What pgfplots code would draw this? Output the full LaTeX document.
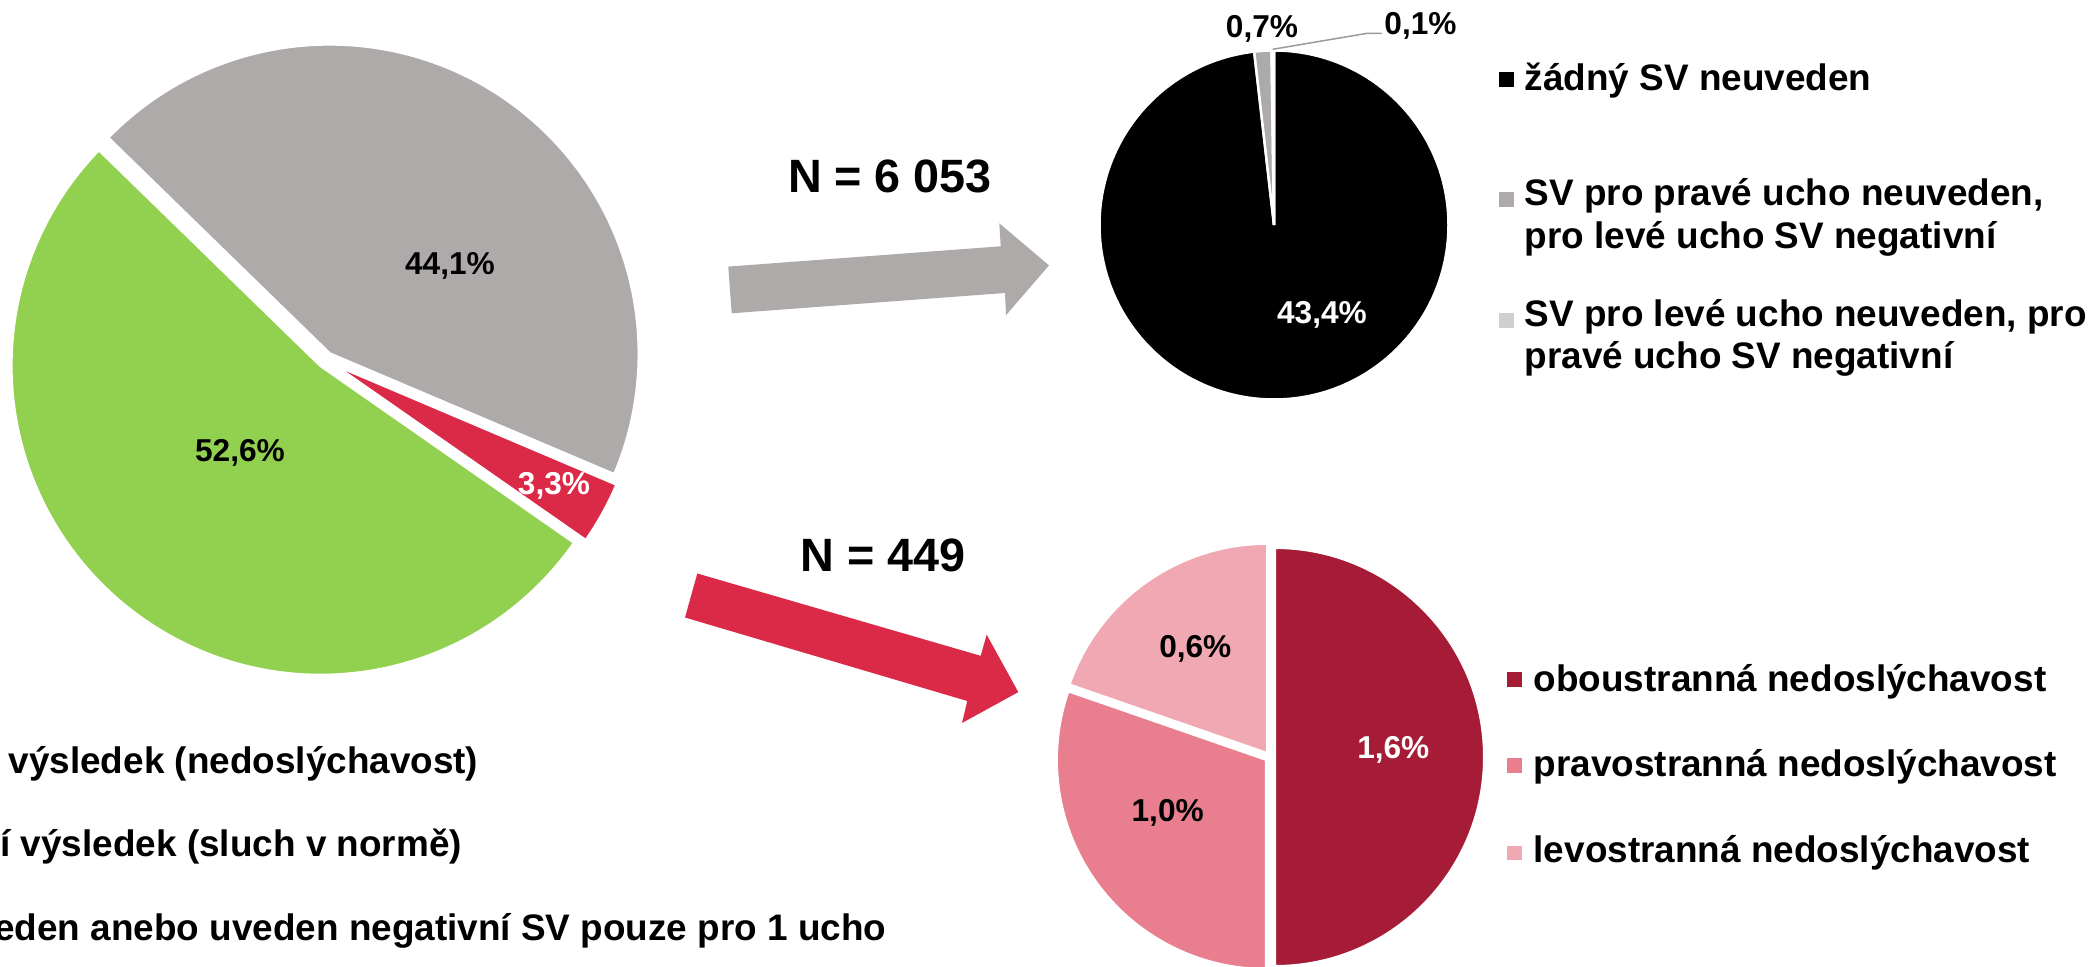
\documentclass[border=0pt]{standalone}
\usepackage{fontspec}
\setmainfont{Liberation Sans}
\usepackage{pgfplots}
\usepackage{pgfplotstable}
\pgfplotsset{compat=1.18}

\definecolor{pGreen}{HTML}{92D050}
\definecolor{pGray}{HTML}{AEAAAA}
\definecolor{pRed}{HTML}{DB2A47}
\definecolor{pLight}{HTML}{D0CECE}
\definecolor{dRed}{HTML}{A61C36}
\definecolor{mPink}{HTML}{E87E8E}
\definecolor{lPink}{HTML}{F0A8B2}

% slice values, in the order they run clockwise
\pgfplotstableread{
v c
3.3 pRed
52.6 pGreen
44.1 pGray
}\bigpie
\pgfplotstableread{
v c
43.4 black
0.7 pGray
0.1 pLight
}\svpie
\pgfplotstableread{
v c
1.6 dRed
0.97 mPink
0.63 lPink
}\posPie

\def\piebw{0.03cm}
% #1 cx, #2 cy, #3 radius, #4 start angle, #5 explode, #6 table
\newcommand\drawpie[6]{%
  \pgfplotstablegetrowsof{#6}%
  \pgfmathtruncatemacro\pielast{\pgfplotsretval-1}%
  \def\pietot{0}%
  \pgfplotsforeachungrouped \i in {0,...,\pielast}{%
    \pgfplotstablegetelem{\i}{v}\of{#6}%
    \pgfmathsetmacro\pietot{\pietot+\pgfplotsretval}}%
  \def\pieacc{0}%
  \pgfplotsforeachungrouped \i in {0,...,\pielast}{%
    \pgfplotstablegetelem{\i}{v}\of{#6}\let\pieval\pgfplotsretval
    \pgfplotstablegetelem{\i}{c}\of{#6}\let\piecol\pgfplotsretval
    \pgfmathsetmacro\pieA{#4-360*(\pieacc/\pietot)}%
    \pgfmathsetmacro\pieB{#4-360*((\pieacc+\pieval)/\pietot)}%
    \pgfmathsetmacro\pieM{(\pieA+\pieB)/2}%
    \pgfmathsetmacro\pieacc{\pieacc+\pieval}%
    \fill[fill=\piecol, draw=white, line width=\piebw]
      ([shift={(\pieM:#5cm)}]axis cs:#1,#2) -- ++(\pieA:#3cm)
      arc[start angle=\pieA, end angle=\pieB, radius=#3cm] -- cycle;
  }}

\newcommand\pct{\fontsize{9}{10}\selectfont\bfseries}
\newcommand\leg{\fontsize{10.5}{12}\selectfont\bfseries}
\newcommand\bigN{\fontsize{13.3}{15}\selectfont\bfseries}

\begin{document}
\begin{tikzpicture}
\begin{axis}[at={(0,0)}, anchor=origin, x=1cm, y=1cm,
  xmin=0, xmax=21, ymin=0, ymax=9.66, hide axis, clip=false]

\pgfplotsextra{%
  \def\piebw{0.03cm}\drawpie{3.254}{6.061}{3.095}{-23}{0.075}{\bigpie}%
  \def\piebw{0.025cm}\drawpie{12.74}{7.41}{1.745}{90}{0}{\svpie}%
  \def\piebw{0.02cm}\drawpie{12.70}{2.09}{2.09}{90}{0.05}{\posPie}%
}

% arrows
\fill[pGray] (axis cs:7.283,6.994) -- (axis cs:10.007,7.197) -- (axis cs:9.993,7.427)
  -- (axis cs:10.49,7.006) -- (axis cs:10.06,6.508) -- (axis cs:10.05,6.73)
  -- (axis cs:7.317,6.527) -- cycle;
\fill[pRed] (axis cs:6.973,3.925) -- (axis cs:9.807,3.102) -- (axis cs:9.867,3.313)
  -- (axis cs:10.183,2.739) -- (axis cs:9.62,2.43) -- (axis cs:9.673,2.65)
  -- (axis cs:6.85,3.485) -- cycle;

\node[anchor=base, inner sep=0] at (axis cs:8.90,7.735) {\bigN N = 6 053};
\node[anchor=base, inner sep=0] at (axis cs:8.833,3.94) {\bigN N = 449};

% slice labels
\node[anchor=base, inner sep=0] at (axis cs:4.50,6.91) {\pct 44,1\%};
\node[anchor=base, inner sep=0] at (axis cs:2.40,5.043) {\pct 52,6\%};
\node[anchor=base, inner sep=0, text=white] at (axis cs:5.54,4.71) {\pct 3,3\%};
\node[anchor=base, inner sep=0, text=white] at (axis cs:13.22,6.427) {\pct 43,4\%};
\node[anchor=base, inner sep=0] at (axis cs:12.62,9.287) {\pct 0,7\%};
\node[anchor=base, inner sep=0] at (axis cs:14.205,9.31) {\pct 0,1\%};
\draw[color=pGray!90!black, line width=0.015cm] (axis cs:12.727,9.167) -- (axis cs:13.673,9.327) -- (axis cs:13.817,9.327);
\node[anchor=base, inner sep=0, text=white] at (axis cs:13.933,2.077) {\pct 1,6\%};
\node[anchor=base, inner sep=0] at (axis cs:11.677,1.443) {\pct 1,0\%};
\node[anchor=base, inner sep=0] at (axis cs:11.953,3.087) {\pct 0,6\%};

% legend of the upper right pie
\fill[black] (axis cs:14.993,8.793) rectangle (axis cs:15.143,8.943);
\fill[pGray] (axis cs:14.993,7.593) rectangle (axis cs:15.143,7.743);
\fill[pLight] (axis cs:14.993,6.38) rectangle (axis cs:15.143,6.53);
\node[anchor=base west, inner sep=0] at (axis cs:15.24,8.753) {\leg žádný SV neuveden};
\node[anchor=base west, inner sep=0] at (axis cs:15.24,7.60) {\leg SV pro pravé ucho neuveden,};
\node[anchor=base west, inner sep=0] at (axis cs:15.24,7.177) {\leg pro levé ucho SV negativní};
\node[anchor=base west, inner sep=0] at (axis cs:15.24,6.393) {\leg SV pro levé ucho neuveden, pro};
\node[anchor=base west, inner sep=0] at (axis cs:15.24,5.977) {\leg pravé ucho SV negativní};

% legend of the lower right pie
\fill[dRed] (axis cs:15.073,2.793) rectangle (axis cs:15.217,2.943);
\fill[mPink] (axis cs:15.073,1.93) rectangle (axis cs:15.217,2.08);
\fill[lPink] (axis cs:15.073,1.06) rectangle (axis cs:15.217,1.20);
\node[anchor=base west, inner sep=0] at (axis cs:15.33,2.743) {\leg oboustranná nedoslýchavost};
\node[anchor=base west, inner sep=0] at (axis cs:15.33,1.893) {\leg pravostranná nedoslýchavost};
\node[anchor=base west, inner sep=0] at (axis cs:15.33,1.033) {\leg levostranná nedoslýchavost};

% legend of the big pie (runs off the left edge)
\fill[pRed] (axis cs:-1.82,1.97) rectangle (axis cs:-1.67,2.12);
\fill[pGreen] (axis cs:-1.82,1.14) rectangle (axis cs:-1.67,1.29);
\fill[pGray] (axis cs:-1.82,0.30) rectangle (axis cs:-1.67,0.45);
\node[anchor=base west, inner sep=0] at (axis cs:-1.52,1.927) {\leg pozitivní výsledek (nedoslýchavost)};
\node[anchor=base west, inner sep=0] at (axis cs:-1.52,1.093) {\leg negativní výsledek (sluch v normě)};
\node[anchor=base west, inner sep=0] at (axis cs:-1.52,0.26) {\leg SV neuveden anebo uveden negativní SV pouze pro 1 ucho};
\end{axis}
\pgfresetboundingbox
\useasboundingbox (0,0) rectangle (21,9.66);
\end{tikzpicture}
\end{document}
